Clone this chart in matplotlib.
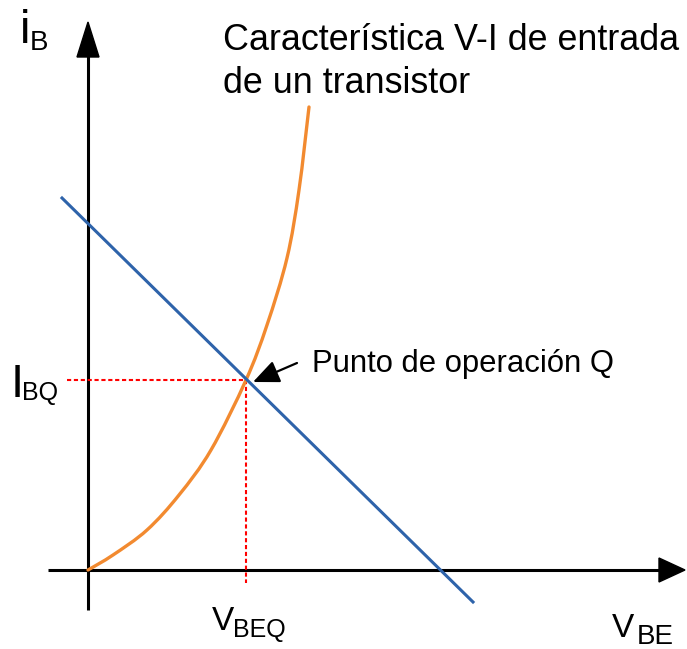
import matplotlib
matplotlib.use("Agg")
import matplotlib.pyplot as plt
import numpy as np
from matplotlib.patches import Polygon, PathPatch
from matplotlib.path import Path

plt.rcParams['font.family'] = ['Liberation Sans', 'DejaVu Sans']

# Input characteristic of the transistor (V_BE, i_B), arbitrary units
vbe_curve = [0.0, 0.25, 0.59, 0.91, 1.23, 1.58, 1.79, 1.99, 2.11, 2.21]
ib_curve = [0.0, 0.15, 0.40, 0.75, 1.20, 1.90, 2.45, 3.12, 3.80, 4.63]

# Load line end points
vbe_load = [-0.26, 3.85]
ib_load = [3.72, -0.32]

# Operating point Q
vbeq = 1.58
ibq = 1.90

title_lines = ["Característica V-I de entrada", "de un transistor"]
q_label = "Punto de operación Q"

BLUE = '#2E63AA'
ORANGE = '#F28A30'


def smooth_path(xs, ys):
    """Catmull-Rom spline through the given points, as cubic Bezier path."""
    pts = np.column_stack([xs, ys]).astype(float)
    n = len(pts)
    verts = [pts[0]]
    codes = [Path.MOVETO]
    for i in range(n - 1):
        p0 = pts[i - 1] if i > 0 else pts[i]
        p1 = pts[i]
        p2 = pts[i + 1]
        p3 = pts[i + 2] if i + 2 < n else pts[i + 1]
        c1 = p1 + (p2 - p0) / 6.0
        c2 = p2 - (p3 - p1) / 6.0
        verts += [c1, c2, p2]
        codes += [Path.CURVE4] * 3
    return Path(verts, codes)


fig = plt.figure(figsize=(6.87, 6.49), dpi=100)
ax = fig.add_axes([0, 0, 1, 1])
ax.set_xlim(-0.88, 5.99)
ax.set_ylim(-0.79, 5.70)
ax.axis('off')

# axes with arrow heads
ax.plot([-0.40, 5.72], [0, 0], color='black', lw=2.2, solid_capstyle='butt', zorder=2)
ax.add_patch(Polygon([[5.71, 0.12], [5.71, -0.12], [5.97, 0.0]], closed=True,
                     color='black', zorder=2))
ax.plot([0, 0], [-0.40, 5.15], color='black', lw=2.2, solid_capstyle='butt', zorder=2)
ax.add_patch(Polygon([[-0.11, 5.13], [0.11, 5.13], [0.0, 5.48]], closed=True,
                     color='black', zorder=2))

# dotted guides
ax.plot([-0.21, vbeq], [ibq, ibq], color='red', lw=1.5, ls=(0, (2, 1.3)), zorder=3)
ax.plot([vbeq, vbeq], [ibq, -0.13], color='red', lw=1.5, ls=(0, (2, 1.3)), zorder=3)

# curves
ax.add_patch(PathPatch(smooth_path(vbe_curve, ib_curve), facecolor='none',
                       edgecolor=ORANGE, lw=2.4, zorder=4, capstyle='round'))
ax.plot(vbe_load, ib_load, color=BLUE, lw=2.2, zorder=5)

# arrow to Q
ax.annotate('', xy=(vbeq + 0.07, ibq - 0.02), xytext=(2.09, 2.07),
            arrowprops=dict(arrowstyle='-|>,head_length=1.6,head_width=0.7',
                            color='black', lw=1.6, shrinkA=0, shrinkB=0), zorder=6)

# texts
ax.text(1.35, 5.20, title_lines[0], fontsize=25.8, ha='left', va='baseline')
ax.text(1.35, 4.77, title_lines[1], fontsize=25.8, ha='left', va='baseline')
ax.text(2.24, 1.98, q_label, fontsize=22.3, ha='left', va='baseline')

ax.text(-0.685, 5.27, 'i', fontsize=34, ha='left', va='baseline')
ax.text(-0.58, 5.20, 'B', fontsize=20, ha='left', va='baseline')

ax.text(-0.775, 1.73, 'I', fontsize=34, ha='left', va='baseline')
ax.text(-0.66, 1.70, 'BQ', fontsize=18, ha='left', va='baseline')

ax.text(1.24, -0.60, 'V', fontsize=24, ha='left', va='baseline')
ax.text(1.45, -0.67, 'BEQ', fontsize=18, ha='left', va='baseline')

ax.text(5.24, -0.67, 'V', fontsize=24, ha='left', va='baseline')
ax.text(5.49, -0.74, 'BE', fontsize=20, ha='left', va='baseline')

fig.savefig('out.png', dpi=100)
